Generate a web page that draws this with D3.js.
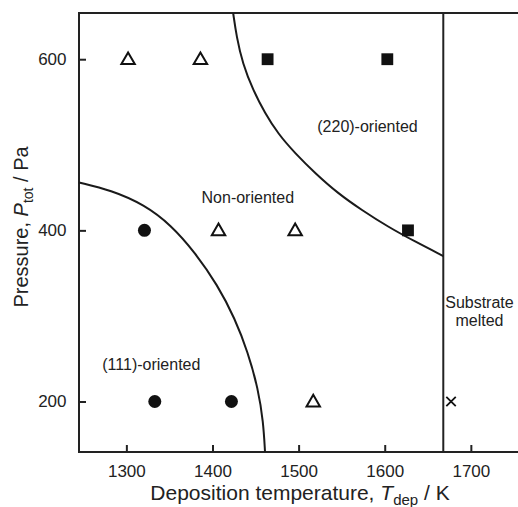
<!DOCTYPE html>
<html>
<head>
<meta charset="utf-8">
<script src="https://cdn.jsdelivr.net/npm/d3@7"></script>
<style>
  body { margin: 0; background: #fff; }
  text { font-family: "Liberation Sans", Arial, sans-serif; fill: #222; }
</style>
</head>
<body>
<svg id="chart" width="518" height="507"></svg>
<script>
// Data
var xTicks = [1300, 1400, 1500, 1600, 1700];
var yTicks = [200, 400, 600];

var nonOriented = [[1302, 600], [1386, 600], [1407, 400], [1496, 400], [1517, 200]];
var oriented220 = [[1464, 600], [1603, 600], [1627, 400]];
var oriented111 = [[1321, 400], [1333, 200], [1422, 200]];
var meltedPts = [[1677, 200]];
var meltT = 1668;

// boundaries, [T, P]
var border111 = [[1245, 456], [1282, 447], [1321, 430], [1352, 406], [1379, 375],
                 [1406, 336], [1426, 297], [1441, 258], [1453, 215], [1459, 176], [1461, 141]];
var border220 = [[1424, 654], [1428, 626], [1435, 595], [1447, 564], [1461, 537],
                 [1476, 513], [1496, 490], [1519, 467], [1546, 443], [1573, 424],
                 [1604, 404], [1635, 387], [1668, 370]];

var regionText = ["Non-oriented", "(220)-oriented", "(111)-oriented", "Substrate", "melted"];
var regionT = [1441, 1580, 1329, 1710, 1710];
var regionP = [439, 521, 243, 316, 295];

// Sizing
var svg = d3.select('#chart');
var plotLeft = 79, plotTop = 13, plotBottom = 452;

var x = d3.scaleLinear().domain([1245, 1760]).range([plotLeft, plotLeft + 515 * 0.8612]);
var y = d3.scaleLinear().domain([141, 654]).range([plotBottom, plotTop]);

svg.append('rect').attr('width', 518).attr('height', 507).attr('fill', '#fff');

// Axes
var xAxis = svg.append('g')
  .attr('transform', 'translate(0,' + plotBottom + ')')
  .call(d3.axisBottom(x).tickValues(xTicks).tickFormat(d3.format('d'))
    .tickSizeInner(-7).tickSizeOuter(0).tickPadding(12.5));
var yAxis = svg.append('g')
  .attr('transform', 'translate(' + plotLeft + ',0)')
  .call(d3.axisLeft(y).tickValues(yTicks).tickFormat(d3.format('d'))
    .tickSizeInner(-7).tickSizeOuter(0).tickPadding(12.5));

[xAxis, yAxis].forEach(function(g) {
  g.select('.domain').remove();
  g.selectAll('line').attr('stroke', '#222').attr('stroke-width', 2);
  g.selectAll('text').attr('font-size', 17).attr('fill', '#222')
    .style('font-family', '"Liberation Sans", Arial, sans-serif');
});

// Frame
svg.append('rect')
  .attr('x', x.range()[0]).attr('y', plotTop)
  .attr('width', x.range()[1] - x.range()[0]).attr('height', plotBottom - plotTop)
  .attr('fill', 'none').attr('stroke', '#222').attr('stroke-width', 2);

// Melting line
svg.append('line')
  .attr('x1', x(meltT)).attr('x2', x(meltT))
  .attr('y1', plotTop).attr('y2', plotBottom)
  .attr('stroke', '#222').attr('stroke-width', 2);

// Boundaries
var line = d3.line()
  .x(function(d) { return x(d[0]); })
  .y(function(d) { return y(d[1]); })
  .curve(d3.curveBasis);

[border111, border220].forEach(function(b) {
  svg.append('path').attr('d', line(b))
    .attr('fill', 'none').attr('stroke', '#1a1a1a').attr('stroke-width', 2);
});

// Markers
svg.selectAll('.tri').data(nonOriented).enter().append('path')
  .attr('transform', function(d) { return 'translate(' + x(d[0]) + ',' + (y(d[1]) + 1) + ')'; })
  .attr('d', d3.symbol().type(d3.symbolTriangle).size(78))
  .attr('fill', '#fff').attr('stroke', '#111').attr('stroke-width', 2);

svg.selectAll('.sq').data(oriented220).enter().append('path')
  .attr('transform', function(d) { return 'translate(' + x(d[0]) + ',' + y(d[1]) + ')'; })
  .attr('d', d3.symbol().type(d3.symbolSquare).size(140))
  .attr('fill', '#111');

svg.selectAll('.dot').data(oriented111).enter().append('circle')
  .attr('cx', function(d) { return x(d[0]); })
  .attr('cy', function(d) { return y(d[1]); })
  .attr('r', 6.5).attr('fill', '#111');

svg.selectAll('.cross').data(meltedPts).enter().append('path')
  .attr('transform', function(d) { return 'translate(' + x(d[0]) + ',' + y(d[1]) + ')'; })
  .attr('d', d3.symbol().type(d3.symbolTimes).size(60))
  .attr('fill', 'none').attr('stroke', '#111').attr('stroke-width', 1.8);

// Region labels
regionText.forEach(function(t, i) {
  svg.append('text')
    .attr('x', x(regionT[i])).attr('y', y(regionP[i]))
    .attr('dy', '0.35em').attr('text-anchor', 'middle')
    .attr('font-size', 16).attr('fill', '#333')
    .text(t);
});

// Axis titles
var xt = svg.append('text')
  .attr('x', 300).attr('y', 500)
  .attr('text-anchor', 'middle').attr('font-size', 21);
xt.append('tspan').text('Deposition temperature, ');
xt.append('tspan').attr('font-style', 'italic').text('T');
xt.append('tspan').attr('font-size', 15).attr('dy', 5).text('dep');
xt.append('tspan').attr('dy', -5).text(' / K');

var yt = svg.append('text')
  .attr('transform', 'translate(28,227) rotate(-90)')
  .attr('text-anchor', 'middle').attr('font-size', 20);
yt.append('tspan').text('Pressure, ');
yt.append('tspan').attr('font-style', 'italic').text('P');
yt.append('tspan').attr('font-size', 14).attr('dy', 5).text('tot');
yt.append('tspan').attr('dy', -5).text(' / Pa');
</script>
</body>
</html>
